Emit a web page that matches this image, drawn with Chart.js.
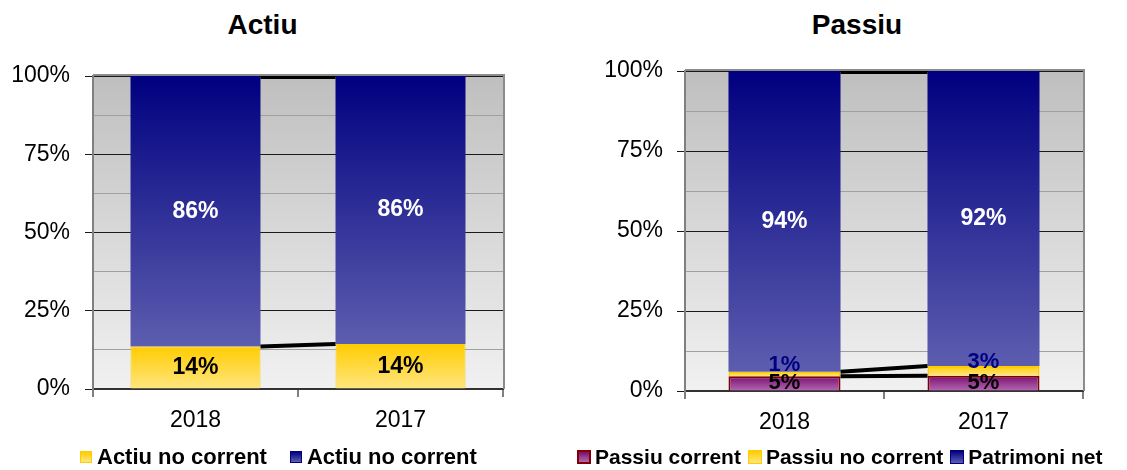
<!DOCTYPE html>
<html>
<head>
<meta charset="utf-8">
<script src="https://cdn.jsdelivr.net/npm/chart.js@4.4.1/dist/chart.umd.min.js"></script>
<style>
  body { margin: 0; background: #fff; width: 1127px; height: 470px; overflow: hidden; position: relative;
         font-family: "Liberation Sans", Arial, sans-serif; }
  canvas { position: absolute; top: 0; }
  .title { position: absolute; top: 11px; font-size: 28px; line-height: 28px; font-weight: bold; text-align: center; }
  .legend { position: absolute; top: 446px; display: flex; align-items: center; font-size: 22px; line-height: 22px; font-weight: bold; white-space: nowrap; }
  .legend .item { display: flex; align-items: center; }
  .legend .swatch { box-sizing: border-box; border: 1px solid; }
</style>
</head>
<body>
  <div class="title" style="left:0;width:525px">Actiu</div>
  <canvas id="actiuChart" width="556" height="470" style="left:0"></canvas>
  <div id="actiuLegend" class="legend" style="left:80px"></div>

  <div class="title" style="left:557px;width:600px">Passiu</div>
  <canvas id="passiuChart" width="567" height="470" style="left:560px"></canvas>
  <div id="passiuLegend" class="legend" style="left:577px;font-size:21px"></div>

<script>
const categories = ["2018", "2017"];

// Actiu (both series carry the same name in the original legend)
const actiuNames = ["Actiu no corrent", "Actiu no corrent"];
const actiuCorrent = [13.6, 14.4];
const actiuNoCorrent = [86.4, 85.6];

// Passiu
const passiuNames = ["Passiu corrent", "Passiu no corrent", "Patrimoni net"];
const passiuCorrent = [4.6, 4.8];
const passiuNoCorrent = [1.4, 3.0];
const patrimoniNet = [94.0, 92.2];

const yTickStep = 12.5;
const yLabelStep = 25;

const FONT = '"Liberation Sans", Arial, sans-serif';
Chart.defaults.font.family = FONT;
Chart.defaults.color = "#000";

const palette = {
  yellow: { stops: ["#ffcc00", "#ffe680"], border: "#ffcc00" },
  blue: { stops: ["#000080", "#5d5daf"], border: "#000080" },
  purple: { stops: ["#7a0e6e", "#b468b4"], border: "#800000" },
};

// gradient over one stacked segment, built from the y scale
function segmentGradient(colors) {
  return (context) => {
    const chart = context.chart;
    const y = chart.scales.y;
    if (!chart.chartArea || !y || context.type !== "data") return colors[0];
    const datasets = chart.data.datasets;
    let start = 0;
    for (let i = 0; i < context.datasetIndex; i++) start += datasets[i].data[context.dataIndex];
    const end = start + datasets[context.datasetIndex].data[context.dataIndex];
    const g = chart.ctx.createLinearGradient(0, y.getPixelForValue(end), 0, y.getPixelForValue(start));
    g.addColorStop(0, colors[0]);
    g.addColorStop(1, colors[1]);
    return g;
  };
}

const plotBackground = {
  id: "plotBackground",
  beforeDraw(chart) {
    const { ctx, chartArea: a } = chart;
    const g = ctx.createLinearGradient(0, a.top, 0, a.bottom);
    g.addColorStop(0, "#bfbfbf");
    g.addColorStop(1, "#f1f1f1");
    ctx.save();
    ctx.fillStyle = g;
    ctx.fillRect(a.left, a.top, a.width, a.height);
    ctx.restore();
  },
  afterDraw(chart) {
    const { ctx, chartArea: a } = chart;
    ctx.save();
    ctx.strokeStyle = "#8c8c8c";
    ctx.lineWidth = 2;
    ctx.beginPath();
    ctx.moveTo(a.left, a.top - 1);
    ctx.lineTo(a.right + 1, a.top - 1);
    ctx.lineTo(a.right + 1, a.bottom);
    ctx.stroke();
    ctx.restore();
  },
};

// Excel style series lines joining the segment tops of neighbouring bars
const seriesLines = {
  id: "seriesLines",
  afterDatasetsDraw(chart) {
    const { ctx } = chart;
    ctx.save();
    ctx.strokeStyle = "#000";
    ctx.lineWidth = 4;
    chart.data.datasets.forEach((ds, di) => {
      const bars = chart.getDatasetMeta(di).data;
      for (let i = 0; i < bars.length - 1; i++) {
        const a = bars[i], b = bars[i + 1];
        const shift = di === chart.data.datasets.length - 1 ? 1 : 0;
        ctx.beginPath();
        ctx.moveTo(a.x + a.width / 2, a.y + shift);
        ctx.lineTo(b.x - b.width / 2, b.y + shift);
        ctx.stroke();
      }
    });
    ctx.restore();
  },
};

const segmentLabels = {
  id: "segmentLabels",
  afterDatasetsDraw(chart) {
    const { ctx } = chart;
    chart.data.datasets.forEach((ds, di) => {
      const bars = chart.getDatasetMeta(di).data;
      bars.forEach((bar, i) => {
        ctx.save();
        ctx.font = `bold ${ds.labelSize || 23}px ${FONT}`;
        ctx.fillStyle = ds.labelColor;
        ctx.textAlign = "center";
        ctx.textBaseline = "middle";
        ctx.fillText(Math.round(ds.data[i]) + "%", bar.x, (bar.y + bar.base) / 2 + (ds.labelShift || 0));
        ctx.restore();
      });
    });
  },
};

function makeDataset(label, data, colors, labelColor, extra) {
  return Object.assign({
    label,
    data,
    backgroundColor: segmentGradient(colors.stops),
    borderColor: colors.border,
    borderWidth: 1,
    labelColor,
  }, extra);
}

function makeChart(canvasId, datasets, opts) {
  return new Chart(document.getElementById(canvasId), {
    type: "bar",
    data: { labels: categories, datasets },
    plugins: [plotBackground, seriesLines, segmentLabels],
    options: {
      responsive: false,
      animation: false,
      events: [],
      layout: { padding: opts.padding },
      datasets: { bar: { barPercentage: opts.barPercentage, categoryPercentage: 1 } },
      plugins: { legend: { display: false }, tooltip: { enabled: false } },
      scales: {
        x: {
          stacked: true,
          afterFit: (scale) => { scale.height = 45; },
          grid: { drawOnChartArea: false, tickLength: 8, color: "#808080", lineWidth: 2 },
          border: { color: "#333", width: 2 },
          ticks: { font: { size: 23 }, color: "#000", padding: 10 },
        },
        y: {
          stacked: true,
          min: 0,
          max: 100,
          afterFit: (scale) => { scale.width = opts.axisWidth; },
          grid: {
            color: (c) => (c.tick.value % yLabelStep === 0 ? "#1a1a1a" : "#a0a0a0"),
            tickColor: (c) => (c.tick.value % yLabelStep === 0 ? "#1a1a1a" : "rgba(0,0,0,0)"),
            tickLength: 8,
            lineWidth: 1,
          },
          border: { color: "#808080", width: 2 },
          ticks: {
            stepSize: yTickStep,
            font: { size: 23 },
            color: "#000",
            padding: opts.tickPadding,
            callback: (v) => (v % yLabelStep === 0 ? v + "%" : ""),
          },
        },
      },
    },
  });
}

function buildLegend(elId, names, colors, opts) {
  const el = document.getElementById(elId);
  el.style.gap = opts.itemGap + "px";
  el.innerHTML = names.map((name, i) => `
    <div class="item" style="gap:${opts.boxGap}px">
      <span class="swatch" style="width:${opts.box}px;height:${opts.box}px;border-color:${colors[i].border};border-width:${opts.borderWidth[i]}px;
        background:linear-gradient(${colors[i].stops[0]}, ${colors[i].stops[1]})"></span>
      <span>${name}</span>
    </div>`).join("");
}

makeChart("actiuChart", [
  makeDataset(actiuNames[0], actiuCorrent, palette.yellow, "#000"),
  makeDataset(actiuNames[1], actiuNoCorrent, palette.blue, "#fff", { borderWidth: 0 }),
], { padding: { top: 76, right: 53, bottom: 36, left: 0 }, axisWidth: 93, tickPadding: 15, barPercentage: 0.634 });

makeChart("passiuChart", [
  makeDataset(passiuNames[0], passiuCorrent, palette.purple, "#000", { borderWidth: 2, labelSize: 22 }),
  makeDataset(passiuNames[1], passiuNoCorrent, palette.yellow, "#000080", { borderWidth: 2, labelSize: 22, labelShift: -9 }),
  makeDataset(passiuNames[2], patrimoniNet, palette.blue, "#fff", { borderWidth: 0 }),
], { padding: { top: 71, right: 44, bottom: 34, left: 0 }, axisWidth: 125, tickPadding: 14, barPercentage: 0.563 });

buildLegend("actiuLegend", actiuNames, [palette.yellow, palette.blue],
  { itemGap: 23, boxGap: 5, box: 12, borderWidth: [1, 1] });
buildLegend("passiuLegend", passiuNames, [palette.purple, palette.yellow, palette.blue],
  { itemGap: 7, boxGap: 4, box: 14, borderWidth: [2, 1, 1] });
</script>
</body>
</html>
